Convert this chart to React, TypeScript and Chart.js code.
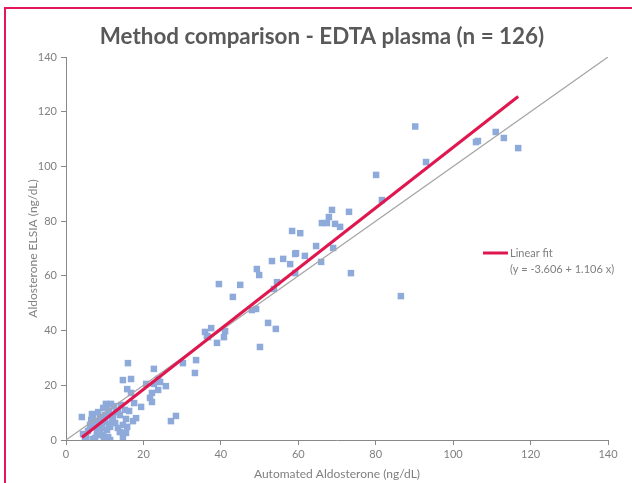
import { useEffect, useRef } from "react";
import { Chart, registerables } from "chart.js";
Chart.register(...registerables);

const titleText = "Method comparison - EDTA plasma (n = 126)";
const xAxisTitle = "Automated Aldosterone (ng/dL)";
const yAxisTitle = "Aldosterone ELSIA (ng/dL)";
const legendLabel = "Linear fit";
const legendEquation = "(y = -3.606 + 1.106 x)";
const fitIntercept = -3.606;
const fitSlope = 1.106;
const axisMin = 0;
const axisMax = 140;
const tickStep = 20;

const automatedX = [
  90.2, 93, 105.9, 106.4, 111, 113.1, 116.8, 80.1, 81.6, 68.7,
  67.9, 66.1, 67.4, 69.5, 70.8, 73.1, 58.4, 60.5, 64.6, 56.1,
  57.9, 59.4, 59.2, 61.7, 65.9, 69, 59.2, 73.6, 86.5, 39.5,
  45, 43.1, 49.3, 49.9, 53.2, 54.5, 53.7, 48, 49.1, 52.2,
  54.2, 50.1, 37.5, 35.9, 36.4, 36.7, 41.1, 40.8, 39, 30.2,
  33.6, 33.3, 16, 22.7, 16.8, 20.7, 16.8, 22.7, 23.8, 24.3,
  25.8, 22.2, 23.8, 21.7, 22.2, 15.2, 17.3, 15.8, 27.1, 28.4,
  14.7, 15.8, 4.1, 6.7, 6.5, 7.2, 7.8, 4.4, 5.2, 4.9,
  8.0, 7.5, 6.9, 8.3, 8.8, 9.6, 10.6, 11.1, 10.1, 9.6,
  9.3, 8.8, 8.0, 9.6, 10.6, 11.4, 11.9, 12.1, 13.4, 13.9,
  12.7, 13.4, 13.9, 10.9, 11.4, 9.8, 14.7, 15.5, 14.7, 15.5,
  16.3, 14.2, 12.4, 11.6, 10.3, 12.9, 9.0, 6.2, 5.7, 10.1,
  11.1, 8.5, 7.0, 18.1, 19.4, 17.6,
];

const elisaY = [
  114.6, 101.6, 108.9, 109.3, 112.6, 110.4, 106.7, 96.9, 87.7, 84.1,
  81.5, 79.3, 79.3, 79, 77.9, 83.4, 76.4, 75.6, 70.9, 66.2,
  64.3, 68.3, 68, 67.3, 65.1, 70.2, 61, 61, 52.6, 57,
  56.7, 52.3, 62.5, 60.3, 65.4, 57.7, 55.2, 47.5, 47.9, 42.8,
  40.6, 34, 40.9, 39.5, 38, 37.6, 39.8, 37.6, 35.5, 28.1,
  29.2, 24.5, 28.1, 26, 22.3, 20.5, 17.2, 20.5, 22.3, 21.2,
  19.7, 17.2, 18.3, 15.4, 13.9, 11, 6.9, 4.8, 6.9, 8.8,
  21.9, 18.6, 8.4, 9.5, 7.3, 6.9, 5.1, 2.2, 1.1, 0.2,
  1.8, 0.7, 0.3, 10.2, 8.4, 11.7, 11.7, 10.2, 9.1, 6.6,
  5.5, 3.7, 2.9, 1.8, 3.7, 4.8, 7.3, 8.4, 10.2, 9.1,
  6.2, 4.4, 2.9, 1.1, 0.0, 0.0, 1.1, 2.6, 5.5, 7.7,
  10.6, 12.8, 12.4, 13.2, 13.2, 10.6, 4.4, 5.5, 3.3, 7.7,
  5.9, 6.6, 8.4, 8.0, 12.1, 13.5,
];

const FONT = "Lato, 'Open Sans', sans-serif";

export default function App() {
  const ref = useRef<HTMLCanvasElement | null>(null);

  useEffect(() => {
    if (!ref.current) return;
    const points = automatedX.map((x, i) => ({ x, y: elisaY[i] }));
    const xMinData = Math.min(...automatedX);
    const xMaxData = Math.max(...automatedX);
    const fitPoints = [
      { x: xMinData, y: fitIntercept + fitSlope * xMinData },
      { x: xMaxData, y: fitIntercept + fitSlope * xMaxData },
    ];
    const identity = [
      { x: axisMin, y: axisMin },
      { x: axisMax, y: axisMax },
    ];

    const decor = {
      id: "decor",
      beforeDraw(chart: any) {
        const ctx = chart.ctx;
        ctx.save();
        ctx.fillStyle = "#ffffff";
        ctx.fillRect(0, 0, chart.width, chart.height);
        ctx.strokeStyle = "#E5175B";
        ctx.lineWidth = 2;
        ctx.strokeRect(5, 8, 1000, 1000);
        ctx.restore();
      },
      afterDraw(chart: any) {
        const ctx = chart.ctx;
        ctx.save();
        ctx.fillStyle = "#595959";
        ctx.font = `bold 22.4px ${FONT}`;
        ctx.textAlign = "center";
        ctx.textBaseline = "middle";
        ctx.fillText(titleText, 322, 37);
        // legend
        ctx.strokeStyle = "#E0174F";
        ctx.lineWidth = 3;
        ctx.beginPath();
        ctx.moveTo(483, 253);
        ctx.lineTo(508, 253);
        ctx.stroke();
        ctx.fillStyle = "#7f7f7f";
        ctx.font = `11px ${FONT}`;
        ctx.textAlign = "left";
        ctx.fillText(legendLabel, 510, 253);
        ctx.fillText(legendEquation, 510, 269);
        ctx.restore();
      },
    };

    const axisCommon = (title: string, isX: boolean) => ({
      type: "linear" as const,
      min: axisMin,
      max: axisMax,
      ticks: {
        stepSize: tickStep,
        color: "#808080",
        font: { family: FONT, size: 11 },
        padding: isX ? 3 : 4,
      },
      grid: {
        display: true,
        drawOnChartArea: false,
        drawTicks: true,
        tickLength: 5,
        color: "#888888",
      },
      border: { display: true, color: "#888888", width: 1 },
      title: {
        display: true,
        text: title,
        color: "#7f7f7f",
        font: { family: FONT, size: 12 },
        padding: isX ? { top: 0, bottom: 2 } : { top: 18, bottom: 0 },
      },
      afterFit(scale: any) {
        if (isX) scale.height = 43;
        else scale.width = 58;
      },
    });

    const chart = new Chart(ref.current, {
      type: "scatter",
      data: {
        datasets: [
          {
            type: "line",
            label: legendLabel,
            data: fitPoints,
            borderColor: "#E0174F",
            borderWidth: 3,
            pointRadius: 0,
            fill: false,
            order: 0,
          },
          {
            type: "line",
            label: "identity",
            data: identity,
            borderColor: "#A6A6A6",
            borderWidth: 1.3,
            pointRadius: 0,
            fill: false,
            order: 1,
          },
          {
            type: "scatter",
            label: "samples",
            data: points,
            pointStyle: "rect",
            pointRadius: 4.6,
            backgroundColor: "#8EAADB",
            borderWidth: 0,
            order: 2,
          },
        ],
      },
      options: {
        responsive: false,
        animation: false,
        layout: { padding: { left: 8, right: 24, top: 57, bottom: 0 } },
        plugins: {
          legend: { display: false },
          title: { display: false },
          tooltip: { enabled: false },
        },
        scales: {
          x: axisCommon(xAxisTitle, true),
          y: axisCommon(yAxisTitle, false),
        },
      },
      plugins: [decor],
    });
    return () => chart.destroy();
  }, []);

  return (
    <div style={{ position: "fixed", left: 0, top: 0, width: 632, height: 483 }}>
      <canvas ref={ref} width={632} height={483} />
    </div>
  );
}
